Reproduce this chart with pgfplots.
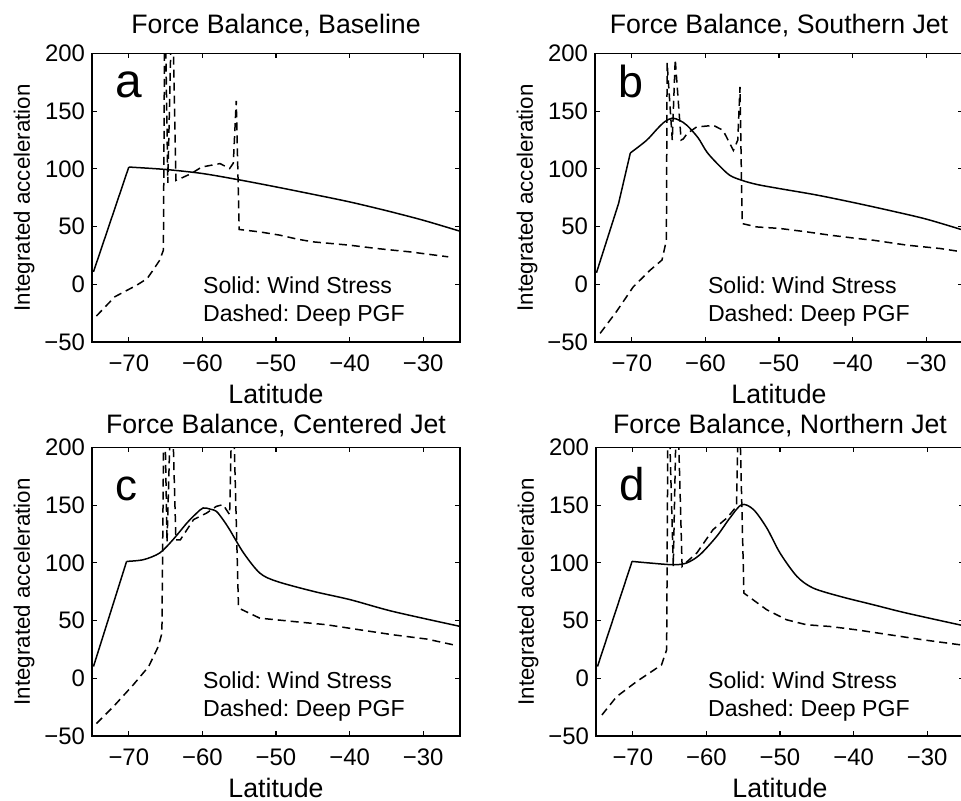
\documentclass[border=0pt]{standalone}
\usepackage{pgfplots}
\pgfplotsset{compat=1.18}
\usepackage{fontspec}
\setmainfont{Liberation Sans}
\frenchspacing

\tikzset{
 solidl/.style={black, line width=0.75bp},
 dashl/.style={black, line width=0.75bp, dash pattern=on 4bp off 2.5bp},
 annot/.style={anchor=base west, inner sep=0pt, font=\fontsize{11.6}{13}\selectfont},
}
\pgfplotsset{
 panel/.style={
  scale only axis, width=184bp, height=144.25bp,
  xmin=-75, xmax=-25, ymin=-50, ymax=200,
  xtick={-70,-60,-50,-40,-30}, xticklabels={−70,−60,−50,−40,−30},
  ytick={-50,0,50,100,150,200}, yticklabels={−50,0,50,100,150,200},
  tick align=inside, major tick length=2.5bp,
  axis line style={line width=0.6bp},
  every tick/.style={line width=0.6bp, black},
  tick label style={font=\fontsize{12}{14}\selectfont},
  xticklabel style={yshift=-2.7bp},
  xlabel={Latitude}, ylabel={Integrated acceleration},
  xlabel style={at={(axis description cs:0.5,-0.214)}, anchor=base, inner sep=0pt, font=\fontsize{13.4}{15}\selectfont},
  ylabel style={at={(axis description cs:-0.1685,0.5)}, anchor=base, inner sep=0pt, font=\fontsize{11.2}{13}\selectfont},
  title style={at={(axis description cs:0.5,1.0278)}, anchor=base, inner sep=0pt, font=\fontsize{13.4}{15}\selectfont},
  clip=true,
 },
}

\begin{document}
\begin{tikzpicture}
\useasboundingbox (0,0) rectangle (480.5bp,400.5bp);

% ---------------- a ----------------
\begin{axis}[panel, at={(46bp,229.5bp)}, anchor=south west, title={Force Balance, Baseline}]
\addplot[solidl] coordinates {(-74.8,10.8) (-70,101.6)};
\addplot[solidl, smooth] coordinates {
(-70,101.6) (-65,99.5) (-60,96) (-55,90.5) (-50,84.4) (-45,78) (-40,71.4) (-35,63.8) (-30,55.5) (-25,46)};
\addplot[dashl] coordinates {
(-74.4,-27.5) (-71.9,-10.8) (-68.9,-0.7) (-67.5,5) (-66.7,12.3) (-65.8,20.9) (-65.3,29.6)
(-65.1,260) (-64.7,88) (-64.1,260) (-63.6,90) (-63.0,91.6)
(-61.5,96) (-60.1,101.6) (-57.6,104.6) (-56.3,100.3) (-55.8,105) (-55.4,159) (-55.0,47.5)
(-52.2,45.4) (-49.5,42.6) (-47,39) (-45,36.8) (-40,33.9) (-36.3,31) (-31.8,28.1) (-26.6,23.8)};
\node[anchor=base west, inner sep=0pt, font=\fontsize{24}{26}\selectfont] at (rel axis cs:0.0625,0.848) {a};
\node[annot] at (rel axis cs:0.301,0.1685) {Solid: Wind Stress};
\node[annot] at (rel axis cs:0.301,0.070) {Dashed: Deep PGF};
\end{axis}

% ---------------- b ----------------
\begin{axis}[panel, at={(297.5bp,229.5bp)}, anchor=south west, title={Force Balance, Southern Jet}]
\addplot[solidl] coordinates {(-74.8,10) (-71.8,70) (-70.2,113.8)};
\addplot[solidl, smooth] coordinates {
(-70.2,113.8) (-68,124.7) (-66.5,135) (-65.5,141) (-64.5,144) (-63.5,142)
(-62.5,137.7) (-61,127) (-59.8,114.6) (-58.3,104) (-56.7,94.5) (-55,90) (-53,86.5) (-50,83)
(-45,77.5) (-40,71) (-35,64) (-30,56.5) (-25,47)};
\addplot[dashl] coordinates {
(-74.3,-42.5) (-72.1,-23.8) (-69.8,-2.2) (-67.5,12.3) (-65.9,21) (-65.3,38.2)
(-65.2,192) (-64.5,125) (-64.1,195) (-63.3,125) (-63.0,126)
(-62.5,130.5) (-61.2,136.3) (-58.9,137.7) (-57.6,133.4) (-56.2,116) (-55.6,125) (-55.3,171) (-55.0,52.6)
(-53,49.7) (-49.9,48.4) (-46.2,45.4) (-43.1,42.6) (-39.4,39.7) (-37.2,38.2) (-32.6,33.9) (-28.1,31) (-25,28)};
\node[anchor=base west, inner sep=0pt, font=\fontsize{22.5}{24}\selectfont] at (rel axis cs:0.0625,0.848) {b};
\node[annot] at (rel axis cs:0.306,0.1685) {Solid: Wind Stress};
\node[annot] at (rel axis cs:0.306,0.070) {Dashed: Deep PGF};
\end{axis}

% ---------------- c ----------------
\begin{axis}[panel, at={(46bp,32.5bp)}, anchor=south west, title={Force Balance, Centered Jet},
  title style={at={(axis description cs:0.5,1.007)}}]
\addplot[solidl] coordinates {(-74.8,10.2) (-70.3,101.3)};
\addplot[solidl, smooth] coordinates {
(-70.3,101.3) (-68,102.8) (-65.8,108.6) (-64,120.1) (-62.1,134.6) (-60.8,143)
(-59.9,147.6) (-58.9,146.5) (-58.1,144.7) (-57.2,137.5) (-56.3,128.8) (-54.4,108.6) (-52.2,91.2)
(-49.9,84) (-44.9,75.3) (-39.9,68.1) (-34.1,57.9) (-25,45)};
\addplot[dashl] coordinates {
(-74.4,-39.2) (-72.1,-24.6) (-69.4,-5.7) (-67.3,10.2) (-66,27.5) (-65.5,39.1)
(-65.2,260) (-64.8,118) (-64.2,260) (-63.6,120) (-63,120)
(-61.2,137.5) (-59.4,143.3) (-58.1,149) (-57.2,150.5) (-56.3,141.8) (-55.9,260) (-55.1,62.3)
(-54.8,60) (-52.2,52.1) (-47.6,49.2) (-43.1,46.4) (-38.6,42) (-34.1,37.7) (-29.5,34) (-25.9,29)};
\node[anchor=base west, inner sep=0pt, font=\fontsize{22}{24}\selectfont] at (rel axis cs:0.0625,0.815) {c};
\node[annot] at (rel axis cs:0.301,0.166) {Solid: Wind Stress};
\node[annot] at (rel axis cs:0.301,0.067) {Dashed: Deep PGF};
\end{axis}

% ---------------- d ----------------
\begin{axis}[panel, at={(298bp,32.5bp)}, anchor=south west, title={Force Balance, Northern Jet},
  title style={at={(axis description cs:0.5,1.007)}}]
\addplot[solidl] coordinates {(-74.8,10.2) (-70.1,101.3)};
\addplot[solidl, smooth] coordinates {
(-70.1,101.3) (-67.7,99.9) (-64.5,98.4) (-62.7,99.9) (-60.9,107) (-58.6,123)
(-56.8,139) (-55.2,150.5) (-53.6,146.2) (-51.8,130.3) (-50,108.6) (-47.7,88.3) (-45.5,78.2)
(-41.8,70.9) (-37.3,63.7) (-32.8,56.5) (-25,45.5)};
\addplot[dashl] coordinates {
(-74.2,-31.8) (-72.2,-15.9) (-69.5,-2.9) (-66.1,11.6) (-65.4,24.7)
(-65.2,260) (-64.5,97) (-64.0,260) (-63.3,97) (-63.1,98.4)
(-61.3,108.6) (-59.1,128.8) (-57.2,139) (-55.9,149) (-55.6,260) (-54.9,73.8)
(-51.8,59.4) (-49.1,50.7) (-46.4,46.4) (-43.2,44.9) (-39.6,42) (-35.1,37.7) (-30.5,33.3) (-25.5,29)};
\node[anchor=base west, inner sep=0pt, font=\fontsize{23}{25}\selectfont] at (rel axis cs:0.0625,0.815) {d};
\node[annot] at (rel axis cs:0.3035,0.166) {Solid: Wind Stress};
\node[annot] at (rel axis cs:0.3035,0.067) {Dashed: Deep PGF};
\end{axis}
\end{tikzpicture}
\end{document}
